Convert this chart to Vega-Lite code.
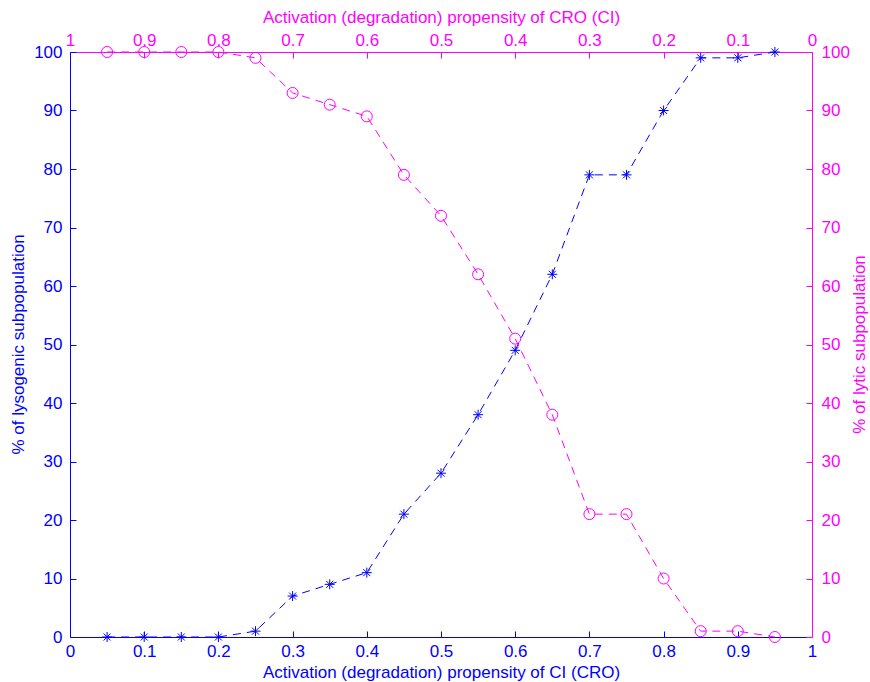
{
  "$schema": "https://vega.github.io/schema/vega-lite/v6.json",
  "width": 742,
  "height": 585,
  "autosize": {"type": "none"},
  "padding": {"left": 70, "top": 52, "right": 58, "bottom": 45},
  "background": "white",
  "config": {
    "view": {"stroke": null},
    "font": "Liberation Sans",
    "axis": {
      "grid": false,
      "labelFont": "Liberation Sans",
      "titleFont": "Liberation Sans",
      "labelFontSize": 17,
      "titleFontSize": 17,
      "titleFontWeight": "normal",
      "tickSize": -6,
      "domainWidth": 1,
      "tickWidth": 1
    }
  },
  "data": {
    "values": [
      {"ci": 0.05, "cro": 0.95, "lyso": 0, "lytic": 100},
      {"ci": 0.10, "cro": 0.90, "lyso": 0, "lytic": 100},
      {"ci": 0.15, "cro": 0.85, "lyso": 0, "lytic": 100},
      {"ci": 0.20, "cro": 0.80, "lyso": 0, "lytic": 100},
      {"ci": 0.25, "cro": 0.75, "lyso": 1, "lytic": 99},
      {"ci": 0.30, "cro": 0.70, "lyso": 7, "lytic": 93},
      {"ci": 0.35, "cro": 0.65, "lyso": 9, "lytic": 91},
      {"ci": 0.40, "cro": 0.60, "lyso": 11, "lytic": 89},
      {"ci": 0.45, "cro": 0.55, "lyso": 21, "lytic": 79},
      {"ci": 0.50, "cro": 0.50, "lyso": 28, "lytic": 72},
      {"ci": 0.55, "cro": 0.45, "lyso": 38, "lytic": 62},
      {"ci": 0.60, "cro": 0.40, "lyso": 49, "lytic": 51},
      {"ci": 0.65, "cro": 0.35, "lyso": 62, "lytic": 38},
      {"ci": 0.70, "cro": 0.30, "lyso": 79, "lytic": 21},
      {"ci": 0.75, "cro": 0.25, "lyso": 79, "lytic": 21},
      {"ci": 0.80, "cro": 0.20, "lyso": 90, "lytic": 10},
      {"ci": 0.85, "cro": 0.15, "lyso": 99, "lytic": 1},
      {"ci": 0.90, "cro": 0.10, "lyso": 99, "lytic": 1},
      {"ci": 0.95, "cro": 0.05, "lyso": 100, "lytic": 0}
    ]
  },
  "layer": [
    {
      "encoding": {
        "x": {
          "field": "ci", "type": "quantitative",
          "scale": {"domain": [0, 1], "nice": false, "zero": false},
          "axis": {
            "orient": "bottom", "values": [0, 0.1, 0.2, 0.3, 0.4, 0.5, 0.6, 0.7, 0.8, 0.9, 1],
            "format": ".1~f",
            "title": "Activation (degradation) propensity of CI (CRO)",
            "domainColor": "#0000ff", "tickColor": "#0000ff",
            "labelColor": "#0000ff", "titleColor": "#0000ff",
            "labelPadding": 12, "titlePadding": 5, "labelFlush": false
          }
        },
        "y": {
          "field": "lyso", "type": "quantitative",
          "scale": {"domain": [0, 100], "nice": false},
          "axis": {
            "orient": "left", "values": [0, 10, 20, 30, 40, 50, 60, 70, 80, 90, 100],
            "format": "d",
            "title": "% of lysogenic subpopulation",
            "domainColor": "#0000ff", "tickColor": "#0000ff",
            "labelColor": "#0000ff", "titleColor": "#0000ff",
            "labelPadding": 14, "labelFlush": false,
            "titleX": -52, "titleY": 292, "titleAngle": -90,
            "titleAlign": "center", "titleBaseline": "middle"
          }
        }
      },
      "layer": [
        {"mark": {"type": "line", "color": "#0000ff", "strokeWidth": 1, "strokeDash": [8, 6]}},
        {"mark": {"type": "point", "shape": "M-1,0L1,0M0,-1L0,1M-0.7,-0.7L0.7,0.7M-0.7,0.7L0.7,-0.7", "filled": false, "stroke": "#0000ff", "strokeWidth": 1, "size": 100, "opacity": 1}}
      ]
    },
    {
      "encoding": {
        "x": {
          "field": "cro", "type": "quantitative",
          "scale": {"domain": [0, 1], "nice": false, "zero": false, "reverse": true},
          "axis": {
            "orient": "top", "values": [0, 0.1, 0.2, 0.3, 0.4, 0.5, 0.6, 0.7, 0.8, 0.9, 1],
            "format": ".1~f",
            "title": "Activation (degradation) propensity of CRO (CI)",
            "domainColor": "#ff00ff", "tickColor": "#ff00ff",
            "labelColor": "#ff00ff", "titleColor": "#ff00ff",
            "labelPadding": 9, "titlePadding": 5, "labelFlush": false
          }
        },
        "y": {
          "field": "lytic", "type": "quantitative",
          "scale": {"domain": [0, 100], "nice": false},
          "axis": {
            "orient": "right", "values": [0, 10, 20, 30, 40, 50, 60, 70, 80, 90, 100],
            "format": "d",
            "title": "% of lytic subpopulation",
            "domainColor": "#ff00ff", "tickColor": "#ff00ff",
            "labelColor": "#ff00ff", "titleColor": "#ff00ff",
            "labelPadding": 15, "labelFlush": false,
            "titleX": 47, "titleY": 292, "titleAngle": -90,
            "titleAlign": "center", "titleBaseline": "middle"
          }
        }
      },
      "layer": [
        {"mark": {"type": "line", "color": "#ff00ff", "strokeWidth": 1, "strokeDash": [8, 6]}},
        {"mark": {"type": "point", "shape": "circle", "filled": false, "stroke": "#ff00ff", "strokeWidth": 1, "size": 121, "opacity": 1}}
      ]
    }
  ],
  "resolve": {"scale": {"x": "independent", "y": "independent"}}
}
